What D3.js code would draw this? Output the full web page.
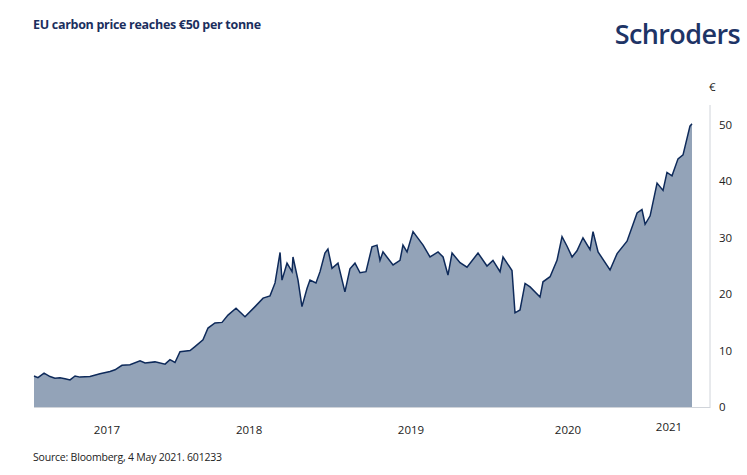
<!DOCTYPE html>
<html>
<head>
<meta charset="utf-8">
<script src="https://cdn.jsdelivr.net/npm/d3@7"></script>
<style>
  body { margin: 0; background: #fff; font-family: "Open Sans", "Noto Sans", sans-serif; }
</style>
</head>
<body>
<svg id="chart" width="747" height="475"></svg>
<script>
// decimal years and EUR/tonne
var times = [2016.500, 2016.529, 2016.574, 2016.618, 2016.654, 2016.691, 2016.728, 2016.765, 2016.802, 2016.838,
    2016.912, 2016.985, 2017.059, 2017.096, 2017.147, 2017.206, 2017.280, 2017.317, 2017.390, 2017.464,
    2017.500, 2017.537, 2017.574, 2017.648, 2017.684, 2017.743, 2017.780, 2017.831, 2017.883, 2017.927,
    2017.986, 2018.052, 2018.126, 2018.185, 2018.236, 2018.273, 2018.310, 2018.324, 2018.361, 2018.398,
    2018.405, 2018.442, 2018.471, 2018.508, 2018.530, 2018.574, 2018.604, 2018.640, 2018.662, 2018.692,
    2018.736, 2018.787, 2018.824, 2018.861, 2018.898, 2018.942, 2018.986, 2019.023, 2019.045, 2019.067,
    2019.141, 2019.192, 2019.214, 2019.244, 2019.288, 2019.325, 2019.362, 2019.413, 2019.472, 2019.509,
    2019.545, 2019.575, 2019.634, 2019.685, 2019.766, 2019.832, 2019.876, 2019.928, 2019.950, 2020.016,
    2020.038, 2020.075, 2020.112, 2020.149, 2020.222, 2020.244, 2020.296, 2020.347, 2020.384, 2020.421,
    2020.458, 2020.494, 2020.538, 2020.590, 2020.612, 2020.649, 2020.737, 2020.789, 2020.862, 2020.936,
    2020.972, 2020.995, 2021.032, 2021.083, 2021.127, 2021.156, 2021.193, 2021.237, 2021.274, 2021.325, 2021.340];
var prices = [5.5, 5.2, 6.0, 5.4, 5.1, 5.2, 5.0, 4.8, 5.5, 5.3,
    5.4, 5.9, 6.3, 6.6, 7.4, 7.5, 8.2, 7.8, 8.0, 7.6,
    8.4, 7.9, 9.8, 10.0, 10.7, 11.9, 14.0, 14.9, 15.0, 16.3,
    17.5, 16.0, 17.8, 19.3, 19.7, 22.0, 27.4, 22.5, 25.5, 24.0,
    26.6, 22.5, 17.8, 21.0, 22.5, 22.0, 24.0, 27.3, 28.0, 24.6,
    25.5, 20.4, 24.5, 25.5, 23.8, 24.0, 28.4, 28.7, 26.0, 27.5,
    25.2, 26.0, 28.7, 27.5, 31.1, 29.9, 28.7, 26.6, 27.5, 26.6,
    23.4, 27.3, 25.6, 24.8, 27.3, 25.0, 26.0, 24.0, 26.6, 24.2,
    16.7, 17.2, 21.9, 21.3, 19.5, 22.2, 23.1, 26.0, 30.2, 28.5,
    26.6, 27.7, 30.0, 27.9, 31.1, 27.5, 24.3, 27.2, 29.4, 34.4,
    35.0, 32.4, 33.9, 39.7, 38.4, 41.6, 41.0, 44.0, 44.7, 49.8, 50.2];
var yearLabels = ["2017", "2018", "2019", "2020", "2021"];
var yearPositions = [2017.037, 2018.082, 2019.273, 2020.428, 2021.171];
var yTicks = [0, 10, 20, 30, 40, 50];

var data = times.map(function(t, i) { return {t: t, v: prices[i]}; });

var svg = d3.select("#chart");
var x = d3.scaleLinear().domain([2016.5, 2021.34]).range([34, 692]);
var y = d3.scaleLinear().domain([0, 50]).range([407, 125]);

svg.append("text").attr("x", 33).attr("y", 29)
    .attr("font-size", 12.5).attr("font-weight", 700).attr("fill", "#1b2f5e")
    .attr("letter-spacing", -0.3)
    .text("EU carbon price reaches €50 per tonne");

svg.append("text").attr("x", 740).attr("y", 44).attr("text-anchor", "end")
    .attr("font-size", 27).attr("font-weight", 600).attr("fill", "#1e3466")
    .attr("letter-spacing", -0.6)
    .text("Schroders");

svg.append("path").datum(data)
    .attr("fill", "#93a3b8")
    .attr("d", d3.area().x(function(d) { return x(d.t); }).y0(y(0)).y1(function(d) { return y(d.v); }));

svg.append("path").datum(data)
    .attr("fill", "none").attr("stroke", "#0e2a5a").attr("stroke-width", 1.5)
    .attr("d", d3.line().x(function(d) { return x(d.t); }).y(function(d) { return y(d.v); }));

// baseline and right axis
svg.append("line").attr("x1", 34).attr("x2", 710).attr("y1", y(0) + 0.5).attr("y2", y(0) + 0.5)
    .attr("stroke", "#d0d4da");
svg.append("line").attr("x1", 710).attr("x2", 710).attr("y1", 105).attr("y2", y(0) + 1)
    .attr("stroke", "#d0d4da");

svg.selectAll(".ytick").data(yTicks).enter().append("text")
    .attr("x", 719).attr("y", function(d) { return y(d) + 4; })
    .attr("font-size", 11.5).attr("fill", "#222")
    .text(function(d) { return d; });
svg.append("text").attr("x", 709).attr("y", 91).attr("font-size", 11.5).attr("fill", "#222").text("€");

svg.selectAll(".xtick").data(yearLabels).enter().append("text")
    .attr("x", function(d, i) { return x(yearPositions[i]); })
    .attr("y", function(d, i) { return i == 4 ? 431 : 434; })
    .attr("text-anchor", "middle").attr("font-size", 11.5).attr("fill", "#222")
    .text(function(d) { return d; });

svg.append("text").attr("x", 33).attr("y", 461).attr("font-size", 10.5).attr("fill", "#222")
    .attr("letter-spacing", -0.2)
    .text("Source: Bloomberg, 4 May 2021. 601233");
</script>
</body>
</html>
